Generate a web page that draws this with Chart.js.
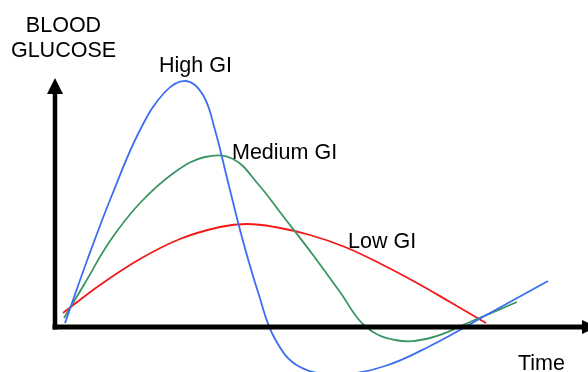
<!DOCTYPE html>
<html>
<head>
<meta charset="utf-8">
<script src="https://cdn.jsdelivr.net/npm/chart.js@4/dist/chart.umd.min.js"></script>
<style>
  body { margin: 0; background: #fff; }
  #wrap { width: 588px; height: 372px; position: relative; }
</style>
</head>
<body>
<div id="wrap"><canvas id="myChart"></canvas></div>
<script>
// curve values (time, blood glucose)
const highGI = [[10,4],[33,69],[57,132],[85,197],[110,235],[131,246],[148,232],[160,197],[173,145],[188,86],[203,35],[220,-12],[245,-40],[285,-47],[330,-39],[375,-19],[435,14],[493,46]];
const mediumGI = [[9,9],[30,44],[55,86],[85,124],[120,155],[150,170],[178,168],[203,143],[228,111],[258,72],[285,35],[310,1],[340,-13],[375,-11],[415,5],[462,25]];
const lowGI = [[8,14],[45,42],[85,68],[125,88],[165,100],[192,103],[220,100],[255,92],[290,80],[328,62],[362,44],[395,25],[431,4]];

// labels and where they sit (data units)
const labels = [
  { text: "BLOOD", x: 8.5, y: 295, align: "center" },
  { text: "GLUCOSE", x: 8.5, y: 270, align: "center" },
  { text: "High GI", x: 104, y: 255, align: "left" },
  { text: "Medium GI", x: 177, y: 168, align: "left" },
  { text: "Low GI", x: 293, y: 79, align: "left" },
  { text: "Time", x: 463, y: -43, align: "left" }
];

function toPts(arr) {
  return arr.map(function (p) { return { x: p[0], y: p[1] }; });
}

// axes with arrows + text
const decor = {
  id: "decor",
  afterDatasetsDraw: function (chart) {
    const ctx = chart.ctx;
    const xs = chart.scales.x;
    const ys = chart.scales.y;
    const x0 = xs.getPixelForValue(0);
    const y0 = ys.getPixelForValue(0);
    const yTop = ys.getPixelForValue(249);
    const xEnd = xs.getPixelForValue(530);
    ctx.save();
    ctx.fillStyle = "#000";
    ctx.strokeStyle = "#000";
    // y axis
    ctx.lineWidth = 4.5;
    ctx.beginPath();
    ctx.moveTo(x0, y0 + 2.5);
    ctx.lineTo(x0, yTop + 14);
    ctx.stroke();
    ctx.beginPath();
    ctx.moveTo(x0, yTop);
    ctx.lineTo(x0 - 8, yTop + 16);
    ctx.lineTo(x0 + 8, yTop + 16);
    ctx.closePath();
    ctx.fill();
    // x axis
    ctx.lineWidth = 5;
    ctx.beginPath();
    ctx.moveTo(x0 - 2.5, y0);
    ctx.lineTo(xEnd, y0);
    ctx.stroke();
    ctx.beginPath();
    ctx.moveTo(xEnd + 12, y0);
    ctx.lineTo(xEnd - 3, y0 - 7);
    ctx.lineTo(xEnd - 3, y0 + 7);
    ctx.closePath();
    ctx.fill();
    // text
    ctx.font = "21.5px 'Liberation Sans', Arial, sans-serif";
    ctx.textBaseline = "alphabetic";
    labels.forEach(function (l) {
      ctx.textAlign = l.align;
      ctx.fillText(l.text, xs.getPixelForValue(l.x), ys.getPixelForValue(l.y));
    });
    ctx.restore();
  }
};

const myChart = new Chart(document.getElementById("myChart"), {
  type: "line",
  data: {
    datasets: [
      {
        label: "High GI",
        data: toPts(highGI),
        borderColor: "#3d6ef2",
        borderWidth: 1.8,
        pointRadius: 0,
        tension: 0.4,
        fill: false
      },
      {
        label: "Medium GI",
        data: toPts(mediumGI),
        borderColor: "#3a9563",
        borderWidth: 1.8,
        pointRadius: 0,
        tension: 0.4,
        fill: false
      },
      {
        label: "Low GI",
        data: toPts(lowGI),
        borderColor: "#f21818",
        borderWidth: 1.8,
        pointRadius: 0,
        tension: 0.4,
        fill: false
      }
    ]
  },
  options: {
    responsive: true,
    maintainAspectRatio: false,
    animation: false,
    layout: { padding: 0 },
    plugins: { legend: { display: false }, tooltip: { enabled: false } },
    scales: {
      x: { type: "linear", min: -55, max: 533, display: false },
      y: { type: "linear", min: -45, max: 327, display: false }
    }
  },
  plugins: [decor]
});
</script>
</body>
</html>
